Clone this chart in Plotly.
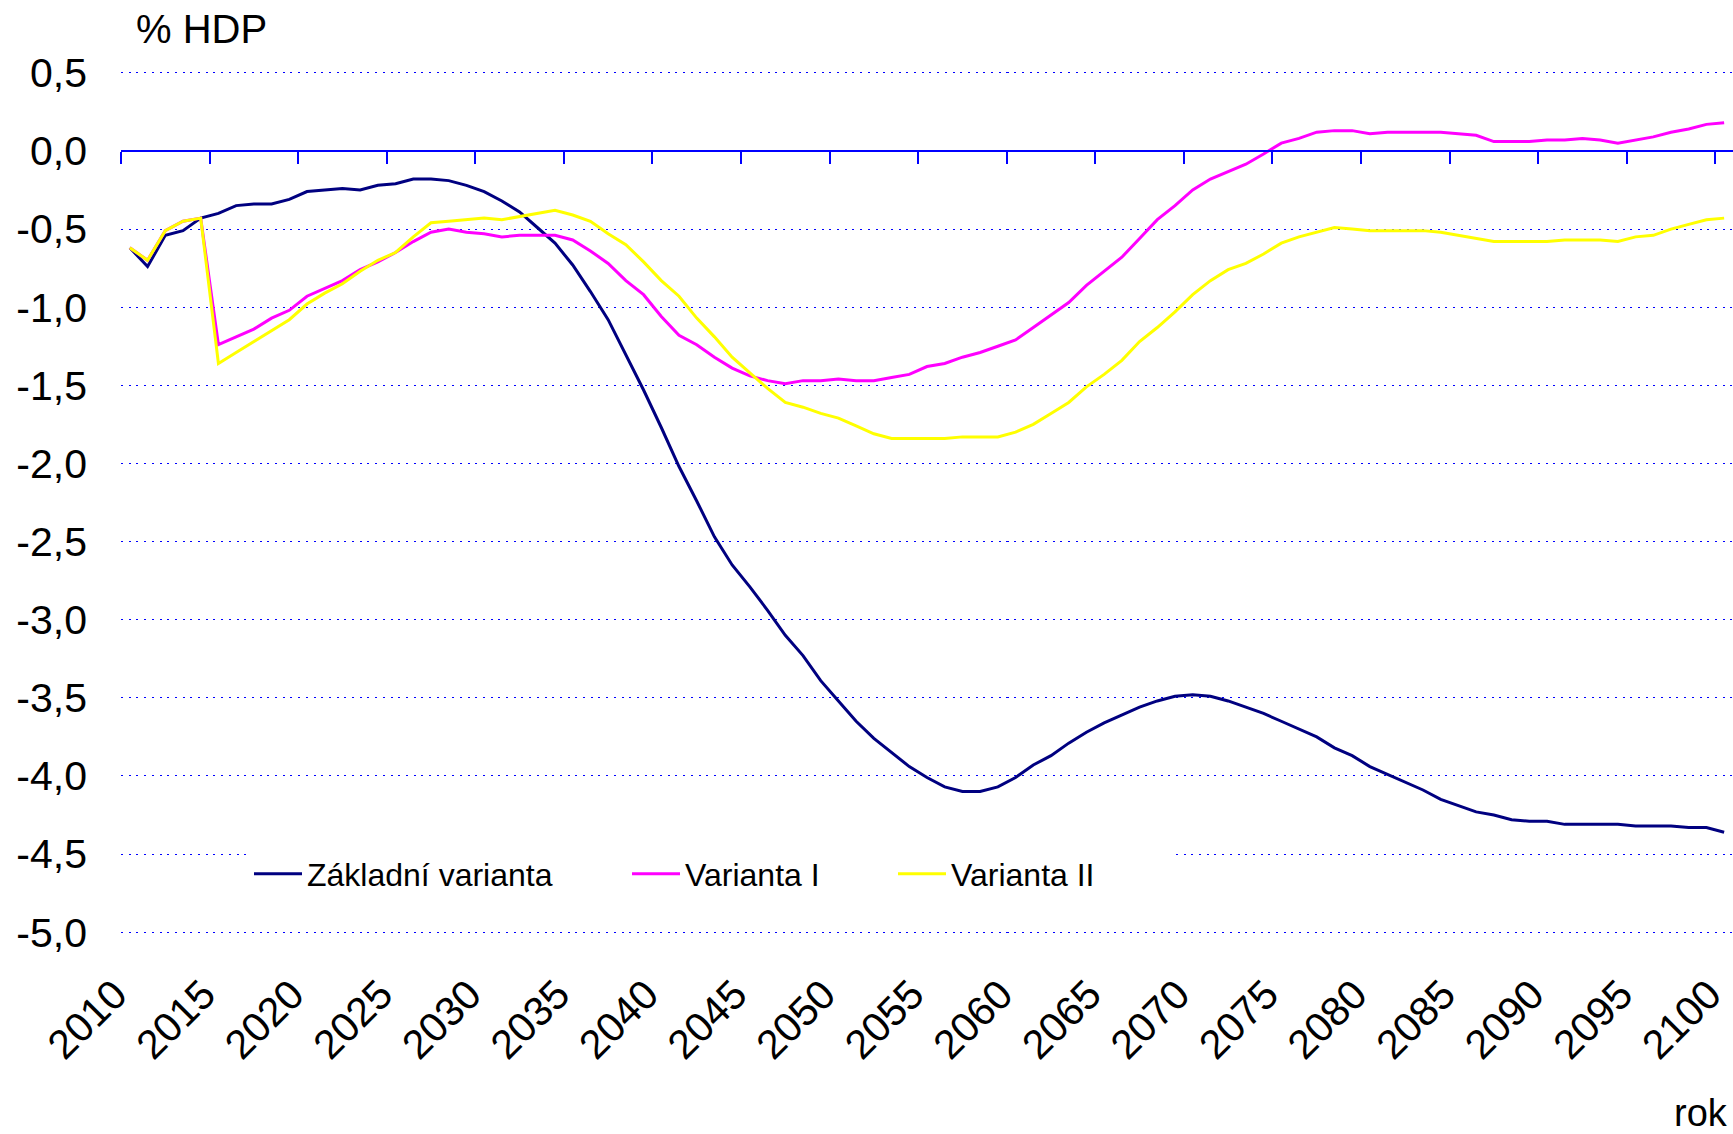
import plotly.graph_objects as go

years = list(range(2010, 2101))

zakladni = [
    -0.62, -0.74, -0.54, -0.51, -0.43, -0.40, -0.35, -0.34, -0.34, -0.31,
    -0.26, -0.25, -0.24, -0.25, -0.22, -0.21, -0.18, -0.18, -0.19, -0.22,
    -0.26, -0.32, -0.39, -0.49, -0.59, -0.73, -0.90, -1.08, -1.30, -1.53,
    -1.77, -2.02, -2.24, -2.47, -2.65, -2.79, -2.94, -3.10, -3.23, -3.39,
    -3.52, -3.65, -3.76, -3.85, -3.94, -4.01, -4.07, -4.10, -4.10, -4.07,
    -4.01, -3.93, -3.87, -3.79, -3.72, -3.66, -3.61, -3.56, -3.52, -3.49,
    -3.48, -3.49, -3.52, -3.56, -3.60, -3.65, -3.70, -3.75, -3.82, -3.87,
    -3.94, -3.99, -4.04, -4.09, -4.15, -4.19, -4.23, -4.25, -4.28, -4.29,
    -4.29, -4.31, -4.31, -4.31, -4.31, -4.32, -4.32, -4.32, -4.33, -4.33,
    -4.36,
]

varianta_1 = [
    -0.62, -0.70, -0.51, -0.45, -0.43, -1.24, -1.19, -1.14, -1.07, -1.02,
    -0.93, -0.88, -0.83, -0.76, -0.71, -0.65, -0.58, -0.52, -0.50, -0.52,
    -0.53, -0.55, -0.54, -0.54, -0.54, -0.57, -0.64, -0.72, -0.83, -0.92,
    -1.06, -1.18, -1.24, -1.32, -1.39, -1.44, -1.47, -1.49, -1.47, -1.47,
    -1.46, -1.47, -1.47, -1.45, -1.43, -1.38, -1.36, -1.32, -1.29, -1.25,
    -1.21, -1.13, -1.05, -0.97, -0.86, -0.77, -0.68, -0.56, -0.44, -0.35,
    -0.25, -0.18, -0.13, -0.085, -0.02, 0.05, 0.08, 0.12, 0.13, 0.13,
    0.11, 0.12, 0.12, 0.12, 0.12, 0.11, 0.10, 0.06, 0.06, 0.06,
    0.07, 0.07, 0.08, 0.07, 0.05, 0.07, 0.09, 0.12, 0.14, 0.17,
    0.18,
]

varianta_2 = [
    -0.62, -0.70, -0.51, -0.45, -0.43, -1.36, -1.29, -1.22, -1.15, -1.08,
    -0.98, -0.91, -0.85, -0.77, -0.70, -0.65, -0.55, -0.46, -0.45, -0.44,
    -0.43, -0.44, -0.42, -0.40, -0.38, -0.41, -0.45, -0.53, -0.60, -0.71,
    -0.83, -0.93, -1.07, -1.19, -1.32, -1.42, -1.52, -1.61, -1.64, -1.68,
    -1.71, -1.76, -1.81, -1.84, -1.84, -1.84, -1.84, -1.83, -1.83, -1.83,
    -1.80, -1.75, -1.68, -1.61, -1.51, -1.43, -1.34, -1.22, -1.13, -1.03,
    -0.92, -0.83, -0.76, -0.72, -0.66, -0.59, -0.55, -0.52, -0.49, -0.50,
    -0.51, -0.51, -0.51, -0.51, -0.52, -0.54, -0.56, -0.58, -0.58, -0.58,
    -0.58, -0.57, -0.57, -0.57, -0.58, -0.55, -0.54, -0.50, -0.47, -0.44,
    -0.43,
]

series_names = ["Základní varianta", "Varianta I", "Varianta II"]

x_tick_years = list(range(2010, 2101, 5))
x_tick_labels = [str(y) for y in x_tick_years]

y_tick_values = [0.5, 0.0, -0.5, -1.0, -1.5, -2.0, -2.5, -3.0, -3.5, -4.0, -4.5, -5.0]
y_tick_labels = ["0,5", "0,0", "-0,5", "-1,0", "-1,5", "-2,0", "-2,5", "-3,0",
                 "-3,5", "-4,0", "-4,5", "-5,0"]

assert len(zakladni) == len(years) == len(varianta_1) == len(varianta_2)

FONT = "Liberation Sans, Arial, sans-serif"
BLUE = "#0000FF"
X_RANGE = [years[0] - 0.5, years[-1] + 0.5]
Y_RANGE = [-5.05, 0.55]

fig = go.Figure()
fig.add_trace(go.Scatter(x=years, y=zakladni, name=series_names[0], mode="lines",
                         line=dict(color="#000080", width=3), legend="legend"))
fig.add_trace(go.Scatter(x=years, y=varianta_1, name=series_names[1], mode="lines",
                         line=dict(color="#FF00FF", width=3), legend="legend2",
                         xaxis="x2"))
fig.add_trace(go.Scatter(x=years, y=varianta_2, name=series_names[2], mode="lines",
                         line=dict(color="#FFFF00", width=3), legend="legend3",
                         xaxis="x2"))

W, H = 1733, 1134
ML, MR, MT, MB = 121, 0, 65, 194
plot_h = H - MT - MB
plot_w = W - ML - MR

zero_pos = (0 - Y_RANGE[0]) / (Y_RANGE[1] - Y_RANGE[0])


def legend_cfg(px_left, entry_w):
    return dict(
        x=(px_left - ML) / plot_w, xanchor="left",
        y=(H - MB - 874) / plot_h, yanchor="middle",
        orientation="h", bgcolor="white", borderwidth=0,
        font=dict(family=FONT, size=32, color="black"),
        itemwidth=48, entrywidth=entry_w, entrywidthmode="pixels",
    )


fig.update_layout(
    width=W, height=H,
    margin=dict(l=ML, r=MR, t=MT, b=MB, autoexpand=False),
    paper_bgcolor="white", plot_bgcolor="white",
    font=dict(family=FONT, size=41, color="black"),
    showlegend=True,
    legend=legend_cfg(249, 330),
    legend2=legend_cfg(627, 225),
    legend3=legend_cfg(893, 216),
    xaxis=dict(
        range=X_RANGE, showgrid=False, zeroline=False, showline=False,
        automargin=False,
        tickmode="array", tickvals=x_tick_years, ticktext=x_tick_labels,
        tickangle=-45, ticks="", ticklabelstandoff=21, ticklabelshift=-15,
        ticklabeloverflow="allow",
        tickfont=dict(family=FONT, size=41, color="black"),
    ),
    xaxis2=dict(
        range=X_RANGE, overlaying="x", anchor="free", position=zero_pos,
        side="bottom", showgrid=False, zeroline=False, automargin=False,
        showline=True, linecolor=BLUE, linewidth=2,
        tickmode="array", tickvals=[y - 0.5 for y in x_tick_years],
        ticks="outside", ticklen=12, tickwidth=2, tickcolor=BLUE,
        showticklabels=False,
    ),
    yaxis=dict(
        range=Y_RANGE, zeroline=False, showline=False, ticks="",
        automargin=False,
        tickmode="array", tickvals=y_tick_values, ticktext=y_tick_labels,
        showgrid=True, gridcolor=BLUE, gridwidth=1, griddash="2px,5.7px",
        ticklabelstandoff=33,
        tickfont=dict(family=FONT, size=41, color="black"),
    ),
    annotations=[
        dict(text="% HDP", xref="paper", yref="paper",
             x=(134 - ML) / plot_w, y=(H - MB - 29) / plot_h,
             xanchor="left", yanchor="middle", showarrow=False,
             font=dict(family=FONT, size=40, color="black")),
        dict(text="rok", xref="paper", yref="paper",
             x=(1672 - ML) / plot_w, y=(H - MB - 1113) / plot_h,
             xanchor="left", yanchor="middle", showarrow=False,
             font=dict(family=FONT, size=38, color="black")),
    ],
)

fig.write_html("out.html", config={"displayModeBar": False},
               post_script="document.body.style.margin='0';")
